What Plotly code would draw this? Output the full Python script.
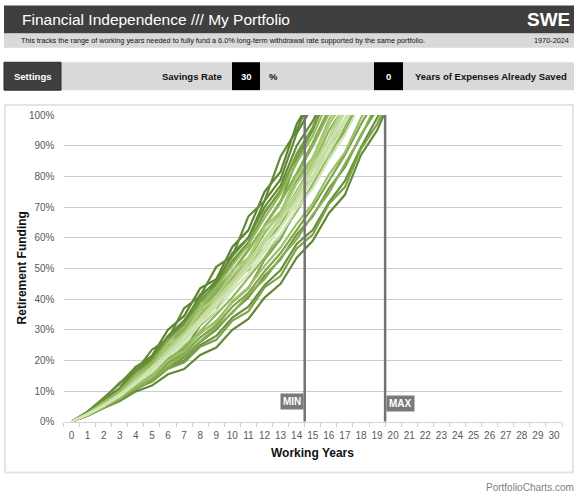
import plotly.graph_objects as go

W, H = 580, 499

# working years shown on the x axis
years = list(range(0, 31))
y_ticks = [0, 10, 20, 30, 40, 50, 60, 70, 80, 90, 100]
y_labels = ["0%", "10%", "20%", "30%", "40%", "50%", "60%", "70%", "80%", "90%", "100%"]
min_years = 14.5
max_years = 19.5

# retirement funding (%) per working year, one list per starting year
fund_a = [0, 3.0, 7.2, 11.0, 17.8, 21.5, 30.0, 34.5, 43.5, 46.5, 57.0, 62.5, 75.0, 81.5, 97.0, 106.0]
fund_b = [0, 2.8, 6.6, 10.0, 16.5, 20.0, 28.0, 32.0, 41.5, 45.0, 55.0, 60.0, 72.0, 79.0, 94.0, 103.0]
fund_l = [0, 3.3, 7.5, 12.8, 16.5, 23.5, 27.0, 37.0, 41.0, 50.5, 54.0, 67.0, 72.0, 86.5, 95.0, 107.0]
fund_u = [0, 2.9, 6.9, 10.9, 16.8, 21.0, 28.0, 33.0, 40.8, 46.0, 54.0, 60.0, 70.0, 77.0, 90.0, 98.0, 109.0]
fund_x1 = [0, 3.3, 7.8, 12.4, 18.0, 20.5, 26.5, 30.0, 36.5, 38.5, 46.5, 49.5, 58.5, 64.0, 74.0, 79.5, 90.0, 96.5, 108.0]
fund_i = [0, 2.0, 4.5, 6.8, 9.9, 11.8, 15.5, 17.2, 21.8, 24.2, 30.0, 33.5, 40.5, 45.0, 53.5, 59.0, 68.0, 74.0, 87.0, 95.0, 107.0]
fund_j = [0, 2.3, 5.0, 7.6, 11.2, 13.6, 17.5, 20.0, 25.0, 28.0, 34.0, 37.5, 44.5, 49.5, 58.0, 62.5, 71.5, 78.5, 89.5, 99.0, 110.0]
fund_s = [0, 2.9, 6.8, 10.4, 16.2, 20.0, 27.0, 31.8, 39.8, 44.6, 52.5, 58.5, 68.0, 75.5, 87.0, 95.5, 107.0]
fund_y1 = [0, 2.1, 4.7, 7.3, 10.6, 13.4, 17.6, 21.0, 26.0, 30.0, 35.8, 40.5, 47.5, 53.0, 61.0, 67.0, 76.0, 83.0, 93.5, 102.0]
fund_x2 = [0, 2.0, 4.6, 7.0, 10.8, 13.8, 19.2, 23.3, 31.5, 36.0, 46.5, 52.0, 64.0, 71.5, 85.5, 95.0, 108.0]
fund_c = [0, 2.7, 6.2, 9.9, 14.8, 19.8, 26.8, 30.8, 39.0, 43.5, 52.0, 57.5, 68.5, 75.0, 87.5, 96.0, 110.0]
fund_q = [0, 2.2, 4.9, 7.4, 10.9, 13.0, 17.3, 19.3, 24.5, 26.7, 33.0, 36.0, 43.8, 47.5, 56.5, 61.0, 71.0, 76.5, 89.0, 97.0, 108.0]
fund_y2 = [0, 2.3, 5.1, 8.0, 11.4, 14.8, 19.0, 22.5, 27.5, 31.5, 37.5, 42.0, 49.0, 55.0, 62.5, 70.0, 78.5, 87.0, 97.0, 106.0]
fund_x3 = [0, 2.9, 6.5, 9.7, 13.9, 16.4, 20.6, 24.0, 28.8, 32.8, 39.0, 43.5, 52.8, 59.5, 69.5, 77.0, 87.5, 94.5, 105.0]
fund_v = [0, 2.6, 6.0, 9.6, 14.2, 18.5, 24.0, 29.0, 35.0, 40.5, 47.5, 53.0, 61.5, 68.0, 78.5, 86.0, 97.0, 105.0]
fund_d = [0, 2.6, 6.0, 9.5, 14.3, 18.3, 24.6, 30.0, 36.3, 42.0, 49.0, 55.8, 64.0, 72.0, 81.0, 91.0, 102.0]
fund_y3 = [0, 2.2, 4.8, 7.7, 11.0, 14.0, 18.0, 21.8, 26.2, 30.8, 35.5, 41.5, 46.5, 53.5, 59.5, 67.5, 74.5, 84.0, 93.0, 104.0]
fund_r = [0, 2.6, 5.7, 9.9, 14.0, 19.3, 24.4, 30.6, 36.7, 42.8, 49.2, 56.3, 63.7, 71.8, 80.2, 89.8, 100.5]
fund_x4 = [0, 2.1, 4.8, 7.6, 12.3, 16.0, 21.8, 26.8, 33.0, 38.5, 45.0, 51.0, 59.2, 66.5, 75.2, 84.0, 94.8, 103.0]
fund_w = [0, 2.2, 5.0, 7.8, 11.5, 15.2, 19.8, 24.5, 29.5, 35.0, 40.5, 47.0, 53.5, 61.0, 68.5, 77.5, 86.0, 96.0, 106.0]
fund_n = [0, 2.7, 6.3, 10.1, 15.3, 19.2, 26.1, 31.0, 37.8, 43.8, 51.0, 57.8, 66.4, 74.3, 84.4, 93.2, 105.0]
fund_k = [0, 2.4, 5.3, 8.1, 11.8, 14.7, 20.0, 23.0, 29.2, 32.4, 39.3, 43.8, 50.8, 56.8, 64.5, 71.2, 80.5, 87.8, 99.0, 108.0]
fund_m = [0, 2.6, 5.9, 8.9, 14.5, 18.0, 25.4, 28.2, 37.0, 40.0, 49.5, 53.5, 63.5, 68.5, 80.0, 86.0, 98.5, 107.0]
fund_g = [0, 2.5, 5.8, 9.1, 13.8, 17.7, 24.0, 29.0, 35.6, 41.0, 47.6, 53.5, 62.1, 67.5, 77.6, 85.0, 96.6, 106.0]
fund_e = [0, 2.5, 5.3, 9.0, 13.0, 18.0, 22.6, 28.4, 33.6, 40.0, 45.5, 52.5, 59.0, 66.6, 74.0, 83.6, 92.5, 104.0]
fund_t = [0, 2.5, 5.6, 8.9, 13.3, 17.2, 23.2, 28.1, 34.0, 39.5, 46.0, 52.0, 59.6, 66.5, 74.6, 83.0, 92.0, 102.0]
fund_o = [0, 2.4, 5.1, 8.9, 12.5, 17.8, 21.6, 27.9, 32.6, 38.9, 44.6, 51.4, 58.1, 65.4, 72.6, 81.9, 90.1, 101.0]
fund_f = [0, 2.4, 5.4, 8.5, 12.8, 16.7, 21.9, 26.6, 32.4, 37.6, 43.9, 50.1, 56.5, 63.6, 71.4, 80.1, 89.5, 98.6, 110.0]
fund_p = [0, 2.5, 5.2, 9.0, 12.7, 17.5, 22.1, 27.4, 33.1, 38.4, 44.1, 49.9, 56.6, 63.4, 71.1, 78.9, 87.6, 96.9, 107.0]
fund_h = [0, 2.3, 5.2, 8.3, 12.5, 16.2, 21.4, 25.6, 31.9, 36.1, 42.9, 48.1, 55.4, 61.1, 69.5, 76.1, 85.5, 93.6, 104.0]

series = [
    (fund_a, "#5a8230"), (fund_b, "#5f8833"), (fund_l, "#628a34"), (fund_u, "#648c36"),
    (fund_x1, "#668e37"), (fund_i, "#628a35"), (fund_j, "#6a913a"), (fund_s, "#6f963e"),
    (fund_y1, "#70963e"), (fund_x2, "#73993f"), (fund_c, "#76a043"), (fund_q, "#7ba246"),
    (fund_y2, "#7ea448"), (fund_x3, "#80a64a"), (fund_v, "#82a84c"), (fund_d, "#84aa4e"),
    (fund_y3, "#8aae54"), (fund_r, "#8db257"), (fund_x4, "#90b45a"), (fund_w, "#92b65d"),
    (fund_n, "#94b85f"), (fund_k, "#9cbf68"), (fund_m, "#a5c673"), (fund_g, "#aecd7e"),
    (fund_e, "#b6d28a"), (fund_t, "#bdd794"), (fund_o, "#c4dc9f"), (fund_f, "#c9dfa8"),
    (fund_p, "#cfe3b1"), (fund_h, "#d4e6b9"),
]


def px_x(x):
    return x / W


def px_y(y):
    # the page photo comes out slightly squeezed vertically, so undo that here
    return 1 - ((y - 4.5) / 0.98) / H


fig = go.Figure()
for vals, color in series:
    fig.add_trace(go.Scatter(
        x=years[:len(vals)], y=vals, mode="lines",
        line=dict(color=color, width=2.2), hoverinfo="skip",
    ))

DARK = "#3f3f3f"
LIGHT = "#d9d9d9"
shapes = [
    # header bars
    dict(type="rect", x0=px_x(4), x1=px_x(574), y0=px_y(4), y1=px_y(32), fillcolor=DARK, line_width=0),
    dict(type="rect", x0=px_x(4), x1=px_x(574), y0=px_y(32), y1=px_y(46.5), fillcolor=LIGHT, line_width=0),
    dict(type="rect", x0=px_x(61), x1=px_x(574), y0=px_y(61), y1=px_y(89), fillcolor=LIGHT, line_width=0),
    dict(type="rect", x0=px_x(4), x1=px_x(61), y0=px_y(61), y1=px_y(89), fillcolor=DARK,
         line=dict(color="#2a2a2a", width=1)),
    dict(type="rect", x0=px_x(232), x1=px_x(260), y0=px_y(61), y1=px_y(89), fillcolor="#000000", line_width=0),
    dict(type="rect", x0=px_x(374), x1=px_x(403), y0=px_y(61), y1=px_y(89), fillcolor="#000000", line_width=0),
    # chart box
    dict(type="rect", x0=px_x(5), x1=px_x(573), y0=px_y(104), y1=px_y(473), fillcolor="white",
         line=dict(color="#e4e4e4", width=2), layer="below"),
    # range band
    dict(type="rect", xref="x", yref="y", x0=min_years, x1=max_years, y0=0, y1=100,
         fillcolor="white", line_width=0, layer="below"),
    dict(type="line", xref="x", yref="y", x0=min_years, x1=min_years, y0=0, y1=100,
         line=dict(color="#737373", width=2.5)),
    dict(type="line", xref="x", yref="y", x0=max_years, x1=max_years, y0=0, y1=100,
         line=dict(color="#737373", width=2.5)),
]

FONT = "Liberation Sans"
annotations = [
    dict(x=px_x(20), y=px_y(18), text="Financial Independence /// My Portfolio", xanchor="left",
         font=dict(size=15.5, color="white", family=FONT)),
    dict(x=px_x(572), y=px_y(18), text="<b>SWE</b>", xanchor="right",
         font=dict(size=19, color="white", family=FONT)),
    dict(x=px_x(19), y=px_y(39.5), text="This tracks the range of working years needed to fully fund a 6.0% "
         "long-term withdrawal rate supported by the same portfolio.", xanchor="left",
         font=dict(size=7.3, color="#111111", family=FONT)),
    dict(x=px_x(571), y=px_y(39.5), text="1970-2024", xanchor="right",
         font=dict(size=7.3, color="#111111", family=FONT)),
    dict(x=px_x(32.5), y=px_y(75), text="<b>Settings</b>", xanchor="center",
         font=dict(size=9.5, color="white", family=FONT)),
    dict(x=px_x(224), y=px_y(75), text="<b>Savings Rate</b>", xanchor="right",
         font=dict(size=9.5, color="#111111", family=FONT)),
    dict(x=px_x(246), y=px_y(75), text="<b>30</b>", xanchor="center",
         font=dict(size=9.5, color="white", family=FONT)),
    dict(x=px_x(267), y=px_y(75), text="<b>%</b>", xanchor="left",
         font=dict(size=9.5, color="#111111", family=FONT)),
    dict(x=px_x(388.5), y=px_y(75), text="<b>0</b>", xanchor="center",
         font=dict(size=9.5, color="white", family=FONT)),
    dict(x=px_x(413), y=px_y(75), text="<b>Years of Expenses Already Saved</b>", xanchor="left",
         font=dict(size=9.5, color="#111111", family=FONT)),
    dict(x=px_x(22), y=px_y(268), text="<b>Retirement Funding</b>", textangle=-90, xanchor="center",
         font=dict(size=12, color="#111111", family=FONT)),
    dict(x=px_x(312), y=px_y(453), text="<b>Working Years</b>", xanchor="center",
         font=dict(size=12, color="#111111", family=FONT)),
    dict(x=px_x(576), y=px_y(488), text="PortfolioCharts.com", xanchor="right",
         font=dict(size=10, color="#7f7f7f", family=FONT)),
    dict(x=min_years, xref="x", y=px_y(401.5), text="<b>MIN</b>", xanchor="right", xshift=-1,
         bgcolor="#7a7a7a", borderpad=2, font=dict(size=10, color="white", family=FONT)),
    dict(x=max_years, xref="x", y=px_y(403.5), text="<b>MAX</b>", xanchor="left", xshift=1,
         bgcolor="#7a7a7a", borderpad=2, font=dict(size=10, color="white", family=FONT)),
]
for a in annotations:
    a.setdefault("xref", "paper")
    a["yref"] = "paper"
    a["yanchor"] = "middle"
    a["showarrow"] = False
for s in shapes:
    s.setdefault("xref", "paper")
    s.setdefault("yref", "paper")

fig.update_layout(
    width=W, height=H, autosize=False,
    margin=dict(l=0, r=0, t=0, b=0),
    paper_bgcolor="white", plot_bgcolor="#e5e5e5",
    showlegend=False,
    shapes=shapes, annotations=annotations,
    xaxis=dict(
        domain=[px_x(63.5), px_x(562)], range=[-0.5, 30.5],
        tickmode="array", tickvals=years, ticks="outside", ticklen=4, tickcolor="rgba(0,0,0,0)",
        showgrid=False, zeroline=False, showline=True, linecolor="#d4d4d4",
        tickfont=dict(size=10, color="#595959", family=FONT),
        minor=dict(tickvals=[v - 0.5 for v in years] + [30.5], ticks="outside", ticklen=4,
                   tickcolor="#cfcfcf"),
        fixedrange=True,
    ),
    yaxis=dict(
        domain=[px_y(422), px_y(114)], range=[0, 100],
        tickmode="array", tickvals=y_ticks, ticktext=y_labels,
        ticks="outside", ticklen=6, tickcolor="rgba(0,0,0,0)",
        showgrid=True, gridcolor="#cccccc", gridwidth=1, zeroline=False,
        tickfont=dict(size=10, color="#595959", family=FONT),
        fixedrange=True,
    ),
)

fig.write_html("out.html", config={"displayModeBar": False},
               post_script="document.body.style.margin = '0';")
